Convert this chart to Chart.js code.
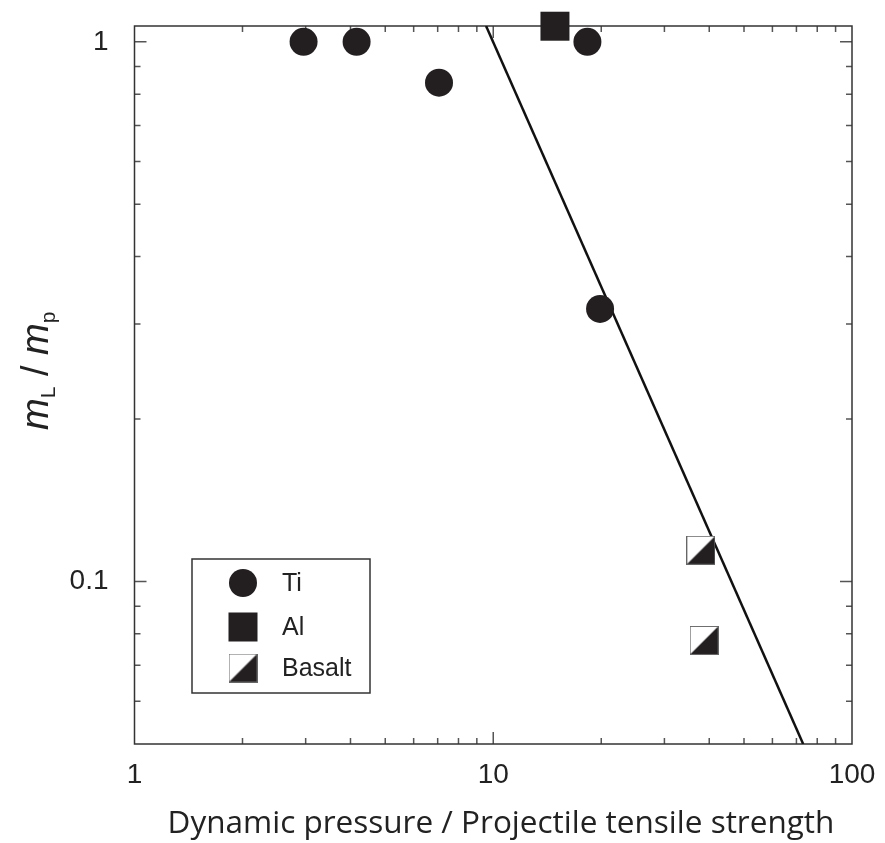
<!DOCTYPE html>
<html>
<head>
<meta charset="utf-8">
<script src="https://cdn.jsdelivr.net/npm/chart.js@4/dist/chart.umd.min.js"></script>
<style>
  html, body { margin: 0; padding: 0; background: #fff; }
  #wrap { width: 885px; height: 843px; position: relative; }
</style>
</head>
<body>
<div id="wrap"><canvas id="chart"></canvas></div>
<script>
// data
const tiPoints = [
    { x: 2.96, y: 1.0 },
    { x: 4.16, y: 1.0 },
    { x: 7.06, y: 0.84 },
    { x: 18.3, y: 1.0 },
    { x: 19.85, y: 0.32 }
];
const alPoints = [
    { x: 14.86, y: 1.069 }
];
const basaltPoints = [
    { x: 37.9, y: 0.1143 },
    { x: 38.7, y: 0.0778 }
];
const fitLine = [
    { x: 9.55, y: 1.07 },
    { x: 73.1, y: 0.05 }
];
const xTickVals = [1, 2, 3, 4, 5, 6, 7, 8, 9, 10, 20, 30, 40, 50, 60, 70, 80, 90, 100];
const yTickVals = [0.05, 0.06, 0.07, 0.08, 0.09, 0.1, 0.2, 0.3, 0.4, 0.5, 0.6, 0.7, 0.8, 0.9, 1];
const xLabels = { 1: '1', 10: '10', 100: '100' };
const yLabels = { 0.1: '0.1', 1: '1' };

const ink = '#231f20';
const labelFont = { family: "'Liberation Sans', Arial, sans-serif", size: 28 };

function basaltIcon(size) {
    const c = document.createElement('canvas');
    c.width = size; c.height = size;
    const g = c.getContext('2d');
    g.fillStyle = '#fff';
    g.fillRect(0, 0, size, size);
    g.fillStyle = ink;
    g.beginPath();
    g.moveTo(size, 0);
    g.lineTo(size, size);
    g.lineTo(0, size);
    g.closePath();
    g.fill();
    g.strokeStyle = '#666';
    g.lineWidth = 1;
    g.strokeRect(0.5, 0.5, size - 1, size - 1);
    return c;
}
const basaltImg = basaltIcon(29);

const isMajor = v => Math.abs(Math.log10(v) - Math.round(Math.log10(v))) < 1e-9;

// frame and inward tick marks on all four sides
const framePlugin = {
    id: 'frame',
    beforeDatasetsDraw(chart) {
        const { ctx, chartArea: a, scales } = chart;
        ctx.save();
        ctx.strokeStyle = '#555';
        ctx.lineWidth = 1.5;
        ctx.beginPath();
        scales.x.ticks.forEach(t => {
            const px = scales.x.getPixelForValue(t.value);
            if (px <= a.left + 1 || px >= a.right - 1) return;
            const len = isMajor(t.value) ? 12 : 6;
            ctx.moveTo(px, a.bottom); ctx.lineTo(px, a.bottom - len);
            ctx.moveTo(px, a.top); ctx.lineTo(px, a.top + len);
        });
        scales.y.ticks.forEach(t => {
            const py = scales.y.getPixelForValue(t.value);
            if (py <= a.top + 1 || py >= a.bottom - 1) return;
            const len = isMajor(t.value) ? 12 : 6;
            ctx.moveTo(a.left, py); ctx.lineTo(a.left + len, py);
            ctx.moveTo(a.right, py); ctx.lineTo(a.right - len, py);
        });
        ctx.stroke();
        ctx.strokeStyle = '#333';
        ctx.lineWidth = 1.5;
        ctx.strokeRect(a.left, a.top, a.right - a.left, a.bottom - a.top);
        ctx.restore();
    },
    afterDraw(chart) {
        const { ctx } = chart;
        ctx.save();
        // legend box
        ctx.fillStyle = '#fff';
        ctx.fillRect(192, 559, 178, 134);
        ctx.strokeStyle = '#333';
        ctx.lineWidth = 1.5;
        ctx.strokeRect(192, 559, 178, 134);
        const mx = 243;
        ctx.fillStyle = ink;
        ctx.beginPath();
        ctx.arc(mx, 583, 14, 0, Math.PI * 2);
        ctx.fill();
        ctx.fillRect(mx - 14.5, 627 - 14.5, 29, 29);
        ctx.drawImage(basaltImg, mx - 14.5, 668 - 14.5);
        ctx.font = "25px 'Liberation Sans', Arial, sans-serif";
        ctx.fillStyle = '#222';
        ctx.textBaseline = 'middle';
        ctx.fillText('Ti', 282, 584);
        ctx.fillText('Al', 282, 628);
        ctx.fillText('Basalt', 282, 669);

        // x title
        ctx.font = "31.5px 'Open Sans', sans-serif";
        ctx.textAlign = 'center';
        ctx.textBaseline = 'alphabetic';
        ctx.fillStyle = '#222';
        ctx.fillText('Dynamic pressure / Projectile tensile strength', 501, 833);

        // y title: m_L / m_p
        ctx.translate(48, 430);
        ctx.rotate(-Math.PI / 2);
        ctx.textAlign = 'left';
        const big = "italic 38px 'Liberation Sans', Arial, sans-serif";
        const sub = "21px 'Liberation Sans', Arial, sans-serif";
        let x = 0;
        const put = (txt, font, dy) => {
            ctx.font = font;
            ctx.fillText(txt, x, dy);
            x += ctx.measureText(txt).width;
        };
        put('m', big, 0);
        put('L', sub, 7);
        put(' / ', "38px 'Liberation Sans', Arial, sans-serif", 0);
        put('m', big, 0);
        put('p', sub, 7);
        ctx.restore();
    }
};

new Chart(document.getElementById('chart'), {
    type: 'scatter',
    data: {
        datasets: [
            {
                label: 'Ti',
                data: tiPoints,
                pointStyle: 'circle',
                pointRadius: 14,
                backgroundColor: ink,
                borderColor: ink,
                borderWidth: 0,
                clip: false
            },
            {
                label: 'Al',
                data: alPoints,
                pointStyle: 'rect',
                pointRadius: 20.5,
                backgroundColor: ink,
                borderColor: ink,
                borderWidth: 0,
                clip: false
            },
            {
                label: 'Basalt',
                data: basaltPoints,
                pointStyle: basaltImg,
                pointRadius: 15,
                clip: false
            },
            {
                label: 'fit',
                data: fitLine,
                showLine: true,
                pointRadius: 0,
                borderColor: '#111',
                borderWidth: 2.5
            }
        ]
    },
    options: {
        responsive: true,
        maintainAspectRatio: false,
        animation: false,
        layout: { padding: { top: 26, right: 33, left: 0, bottom: 0 } },
        plugins: {
            legend: { display: false },
            tooltip: { enabled: false }
        },
        scales: {
            x: {
                type: 'logarithmic',
                min: 1,
                max: 100,
                bounds: 'data',
                grid: { display: false },
                border: { display: false },
                ticks: {
                    autoSkip: false,
                    maxRotation: 0,
                    padding: 6,
                    color: '#222',
                    font: labelFont,
                    callback: v => xLabels[v] || ''
                },
                afterBuildTicks: s => { s.ticks = xTickVals.map(v => ({ value: v })); },
                afterFit: s => { s.height = 99; s.paddingLeft = 0; s.paddingRight = 0; }
            },
            y: {
                type: 'logarithmic',
                min: 0.05,
                max: 1.07,
                bounds: 'data',
                grid: { display: false },
                border: { display: false },
                ticks: {
                    autoSkip: false,
                    padding: 18,
                    color: '#222',
                    font: labelFont,
                    callback: v => yLabels[v] || ''
                },
                afterBuildTicks: s => { s.ticks = yTickVals.map(v => ({ value: v })); },
                afterFit: s => { s.width = 134.5; s.paddingTop = 0; s.paddingBottom = 0; }
            }
        }
    },
    plugins: [framePlugin]
});
</script>
</body>
</html>
